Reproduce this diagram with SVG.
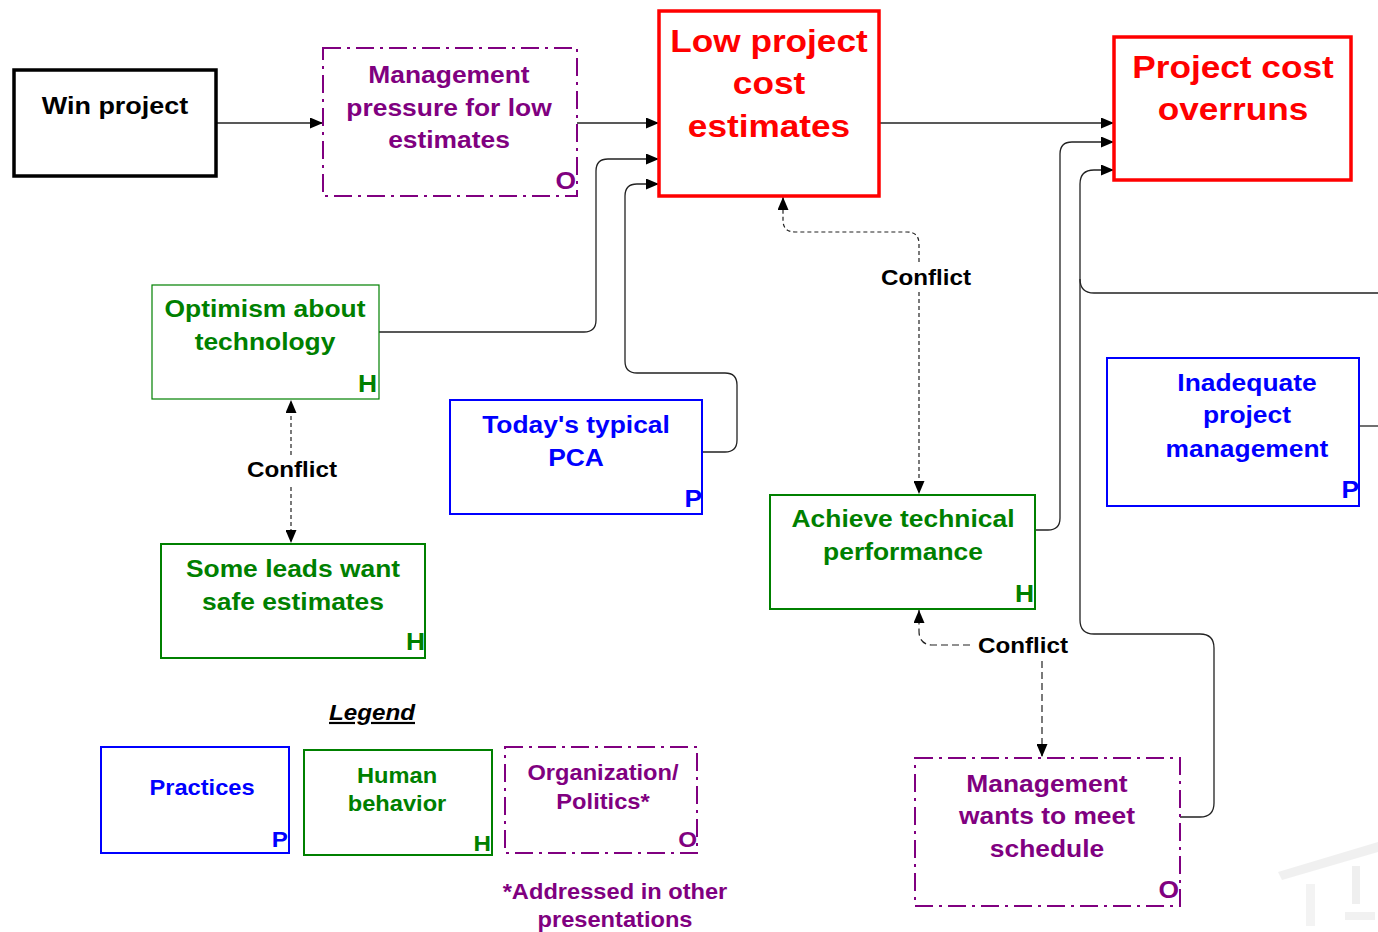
<svg xmlns="http://www.w3.org/2000/svg" width="1378" height="932" viewBox="0 0 1378 932">
<defs>
<style>
text{font-family:"Liberation Sans",Arial,Helvetica,sans-serif;font-weight:bold;text-anchor:middle}
.n{font-size:24px}
.big{font-size:32px;fill:#ff0000}
.lg{font-size:21.5px}
.mk{font-size:24px;text-anchor:end}
.cf{font-size:22px;fill:#000}
.pu{fill:#800080}.gr{fill:#008000}.bl{fill:#0000ff}.bk{fill:#000}
.bx{fill:#fff}
.red{stroke:#ff0000;stroke-width:3.5}
.blu{stroke:#0000ff;stroke-width:2}
.grn{stroke:#008000;stroke-width:2}
.grn1{stroke:#008000;stroke-width:1.2}
.pur{stroke:#800080;stroke-width:2;stroke-dasharray:18 6 3 6}
.c{fill:none;stroke:#222;stroke-width:1.3}
.d{fill:none;stroke:#222;stroke-width:1.2;stroke-dasharray:4 3}
.d2{fill:none;stroke:#222;stroke-width:1.2;stroke-dasharray:7 4}
</style>
<marker id="ah" viewBox="0 0 13 11" refX="13" refY="5.5" markerWidth="13" markerHeight="11" markerUnits="userSpaceOnUse" orient="auto"><path d="M0,0 L13,5.5 L0,11 z" fill="#000"/></marker>
</defs>
<rect width="1378" height="932" fill="#fff"/>

<g id="watermark" opacity="0.3">
<polygon points="1278,872 1378,842 1378,852 1282,880" fill="#d0d0d0"/>
<rect x="1306" y="884" width="9" height="42" fill="#d8d8d8"/>
<rect x="1352" y="866" width="8" height="38" fill="#cccccc"/>
<rect x="1345" y="912" width="30" height="8" fill="#d4d4d4"/>
</g>

<g id="connectors">
<path class="c" d="M216,123 H323" marker-end="url(#ah)"/>
<path class="c" d="M577,123 H659" marker-end="url(#ah)"/>
<path class="c" d="M379,332 H584 Q596,332 596,320 V171 Q596,159 608,159 H659" marker-end="url(#ah)"/>
<path class="c" d="M702,452 H725 Q737,452 737,440 V385 Q737,373 725,373 H637 Q625,373 625,361 V196 Q625,184 637,184 H659" marker-end="url(#ah)"/>
<path class="c" d="M879,123 H1114" marker-end="url(#ah)"/>
<path class="c" d="M1035,530 H1048 Q1060,530 1060,518 V154 Q1060,142 1072,142 H1114" marker-end="url(#ah)"/>
<path class="c" d="M1180,817 H1200 Q1214,817 1214,803 V648 Q1214,634 1200,634 H1094 Q1080,634 1080,620 V184 Q1080,170 1094,170 H1114" marker-end="url(#ah)"/>
<path class="c" d="M1378,293 H1094 Q1080,293 1080,279"/>
<path class="c" d="M1359,426 H1378"/>
<path class="d" d="M919,262 V244 Q919,232 907,232 H795 Q783,232 783,220 V197" marker-end="url(#ah)"/>
<path class="d" d="M919,292 V494" marker-end="url(#ah)"/>
<path class="d" d="M291,455 V400" marker-end="url(#ah)"/>
<path class="d" d="M291,487 V543" marker-end="url(#ah)"/>
<path class="d2" d="M970,645 H933 Q919,645 919,631 V610" marker-end="url(#ah)"/>
<path class="d2" d="M1042,661 V757" marker-end="url(#ah)"/>
<g transform="translate(926 0) scale(1.1 1)"><text class="cf" x="0" y="285">Conflict</text></g>
<g transform="translate(292 0) scale(1.1 1)"><text class="cf" x="0" y="477">Conflict</text></g>
<g transform="translate(1023 0) scale(1.1 1)"><text class="cf" x="0" y="653">Conflict</text></g>
</g>

<g id="win-project">
<rect class="bx" x="14" y="70" width="202" height="106" stroke="#000" stroke-width="3.5"/>
<g transform="translate(115 0) scale(1.1 1)"><text class="n bk" x="0" y="114" style="font-size:24.5px">Win project</text></g>
</g>

<g id="mgmt-pressure">
<rect class="bx pur" x="323" y="48" width="254" height="148"/>
<g transform="translate(449 0) scale(1.1 1)">
<text class="n pu" x="0" y="83">Management</text>
<text class="n pu" x="0" y="116">pressure for low</text>
<text class="n pu" x="0" y="148">estimates</text>
</g>
<g transform="translate(576 0) scale(1.1 1)"><text class="mk pu" x="0" y="189">O</text></g>
</g>

<g id="low-cost">
<rect class="bx red" x="659" y="11" width="220" height="185"/>
<g transform="translate(769 0) scale(1.1 1)">
<text class="big" x="0" y="52">Low project</text>
<text class="big" x="0" y="94">cost</text>
<text class="big" x="0" y="137">estimates</text>
</g>
</g>

<g id="overruns">
<rect class="bx red" x="1114" y="37" width="237" height="143"/>
<g transform="translate(1233 0) scale(1.1 1)">
<text class="big" x="0" y="78">Project cost</text>
<text class="big" x="0" y="120">overruns</text>
</g>
</g>

<g id="optimism">
<rect class="bx grn1" x="152" y="285" width="227" height="114"/>
<g transform="translate(265 0) scale(1.1 1)">
<text class="n gr" x="0" y="317">Optimism about</text>
<text class="n gr" x="0" y="350">technology</text>
</g>
<g transform="translate(377 0) scale(1.1 1)"><text class="mk gr" x="0" y="392">H</text></g>
</g>

<g id="pca">
<rect class="bx blu" x="450" y="400" width="252" height="114"/>
<g transform="translate(576 0) scale(1.1 1)">
<text class="n bl" x="0" y="433">Today's typical</text>
<text class="n bl" x="0" y="466">PCA</text>
</g>
<g transform="translate(702 0) scale(1.1 1)"><text class="mk bl" x="0" y="507">P</text></g>
</g>

<g id="safe-estimates">
<rect class="bx grn" x="161" y="544" width="264" height="114"/>
<g transform="translate(293 0) scale(1.1 1)">
<text class="n gr" x="0" y="577">Some leads want</text>
<text class="n gr" x="0" y="610">safe estimates</text>
</g>
<g transform="translate(425 0) scale(1.1 1)"><text class="mk gr" x="0" y="650">H</text></g>
</g>

<g id="achieve">
<rect class="bx grn" x="770" y="495" width="265" height="114"/>
<g transform="translate(903 0) scale(1.1 1)">
<text class="n gr" x="0" y="527">Achieve technical</text>
<text class="n gr" x="0" y="560">performance</text>
</g>
<g transform="translate(1034 0) scale(1.1 1)"><text class="mk gr" x="0" y="602">H</text></g>
</g>

<g id="inadequate">
<rect class="bx blu" x="1107" y="358" width="252" height="148"/>
<g transform="translate(1247 0) scale(1.1 1)">
<text class="n bl" x="0" y="391">Inadequate</text>
<text class="n bl" x="0" y="423">project</text>
<text class="n bl" x="0" y="457">management</text>
</g>
<g transform="translate(1359 0) scale(1.1 1)"><text class="mk bl" x="0" y="498">P</text></g>
</g>

<g id="mgmt-schedule">
<rect class="bx pur" x="915" y="758" width="265" height="148"/>
<g transform="translate(1047 0) scale(1.1 1)">
<text class="n pu" x="0" y="792">Management</text>
<text class="n pu" x="0" y="824">wants to meet</text>
<text class="n pu" x="0" y="857">schedule</text>
</g>
<g transform="translate(1179 0) scale(1.1 1)"><text class="mk pu" x="0" y="898">O</text></g>
</g>

<g id="legend">
<g transform="translate(372 0) scale(1.1 1)"><text class="bk" x="0" y="720" style="font-size:22px;font-style:italic;text-decoration:underline">Legend</text></g>
<g id="legend-practices">
<rect class="bx blu" x="101" y="747" width="188" height="106"/>
<g transform="translate(202 0) scale(1.1 1)"><text class="lg bl" x="0" y="795">Practices</text></g>
<g transform="translate(288 0) scale(1.1 1)"><text class="mk bl" x="0" y="847" style="font-size:22px">P</text></g>
</g>
<g id="legend-human">
<rect class="bx grn" x="304" y="750" width="188" height="105"/>
<g transform="translate(397 0) scale(1.1 1)">
<text class="lg gr" x="0" y="783">Human</text>
<text class="lg gr" x="0" y="811">behavior</text>
</g>
<g transform="translate(491 0) scale(1.1 1)"><text class="mk gr" x="0" y="851" style="font-size:22px">H</text></g>
</g>
<g id="legend-org">
<rect class="bx pur" x="505" y="747" width="192" height="106"/>
<g transform="translate(603 0) scale(1.1 1)">
<text class="lg pu" x="0" y="780">Organization/</text>
<text class="lg pu" x="0" y="809">Politics*</text>
</g>
<g transform="translate(697 0) scale(1.1 1)"><text class="mk pu" x="0" y="847" style="font-size:22px">O</text></g>
</g>
<g transform="translate(615 0) scale(1.1 1)">
<text class="lg pu" x="0" y="899">*Addressed in other</text>
<text class="lg pu" x="0" y="927">presentations</text>
</g>
</g>
</svg>
